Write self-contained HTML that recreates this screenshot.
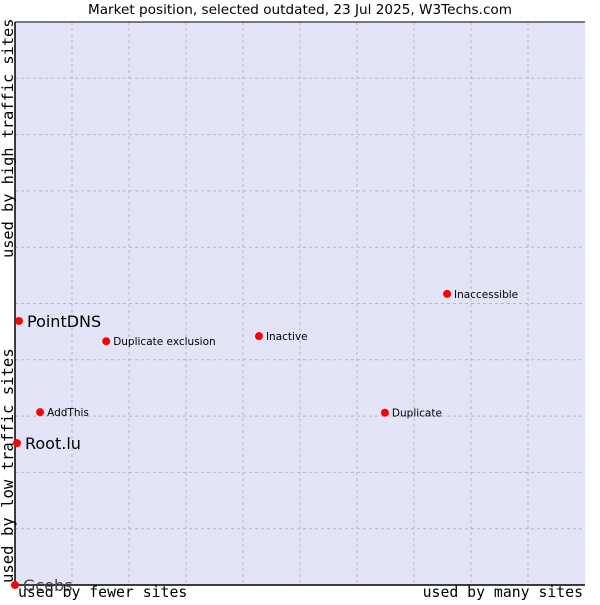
<!DOCTYPE html>
<html><head><meta charset="utf-8"><style>
body{margin:0;background:#fff;width:600px;height:600px;overflow:hidden}
svg text{font-family:"DejaVu Sans","Liberation Sans",sans-serif}
.mono{font-family:"DejaVu Sans Mono","Liberation Mono",monospace}
</style></head><body>
<svg id="chart" width="600" height="600" xmlns="http://www.w3.org/2000/svg">
<text x="300" y="14" text-anchor="middle" font-size="13.6" fill="#000">Market position, selected outdated, 23 Jul 2025, W3Techs.com</text>
<rect x="15" y="22" width="570" height="563" fill="#e3e4f8"/>
<g id="grid"></g>
<line x1="15" y1="22" x2="15" y2="585" stroke="#000" stroke-width="1.5"/>
<line x1="15" y1="22" x2="585" y2="22" stroke="#000" stroke-width="1"/>
<line x1="15" y1="585" x2="585" y2="585" stroke="#000" stroke-width="1.5"/>
<text class="mono" x="18" y="597" font-size="14.8">used by fewer sites</text>
<text class="mono" x="583" y="597" font-size="14.8" text-anchor="end">used by many sites</text>
<text class="mono" transform="translate(13,258) rotate(-90)" font-size="15.3">used by high traffic sites</text>
<text class="mono" transform="translate(13,583) rotate(-90)" font-size="15.6">used by low traffic sites</text>
<g id="points"></g>
</svg>
<script>
const names=["Gcebs","Root.lu","PointDNS","AddThis","Duplicate exclusion","Inactive","Inaccessible","Duplicate"];
const xVals=[0,0.35,0.7,4.4,16,42.8,75.8,64.9];
const yVals=[0,25.2,46.9,30.7,43.3,44.2,51.7,30.6];
const big=[true,true,true,false,false,false,false,false];
const NS="http://www.w3.org/2000/svg";
const X=v=>15+v*5.7, Y=v=>585-v*5.63;
const grid=document.getElementById('grid');
for(let i=1;i<10;i++){
  const a=document.createElementNS(NS,'line');
  
  
  a.setAttribute('x1',X(i*10));a.setAttribute('x2',X(i*10));a.setAttribute('y1',22);a.setAttribute('y2',585);
  a.setAttribute('stroke','#b8b8b8');a.setAttribute('stroke-dasharray','3,3');grid.appendChild(a);
  const b=document.createElementNS(NS,'line');
  
  
  b.setAttribute('y1',Y(i*10));b.setAttribute('y2',Y(i*10));b.setAttribute('x1',15);b.setAttribute('x2',585);
  b.setAttribute('stroke','#b8b8b8');b.setAttribute('stroke-dasharray','3,3');grid.appendChild(b);
}
const pts=document.getElementById('points');
names.forEach((n,i)=>{
  const x=X(xVals[i]),y=Y(yVals[i]);
  const c=document.createElementNS(NS,'circle');
  
  
  c.setAttribute('cx',x);c.setAttribute('cy',y);c.setAttribute('r',4);c.setAttribute('fill','#f00');
  pts.appendChild(c);
  const t=document.createElementNS(NS,'text');
  
  
  t.setAttribute('x',x+(big[i]?8:7));t.setAttribute('y',y+(big[i]?6:4));
  t.setAttribute('font-size',big[i]?16:10.5);
  t.setAttribute('fill',big[i]&&yVals[i]===0?'#444':'#000');
  t.textContent=n;pts.appendChild(t);
});
</script>
</body></html>
